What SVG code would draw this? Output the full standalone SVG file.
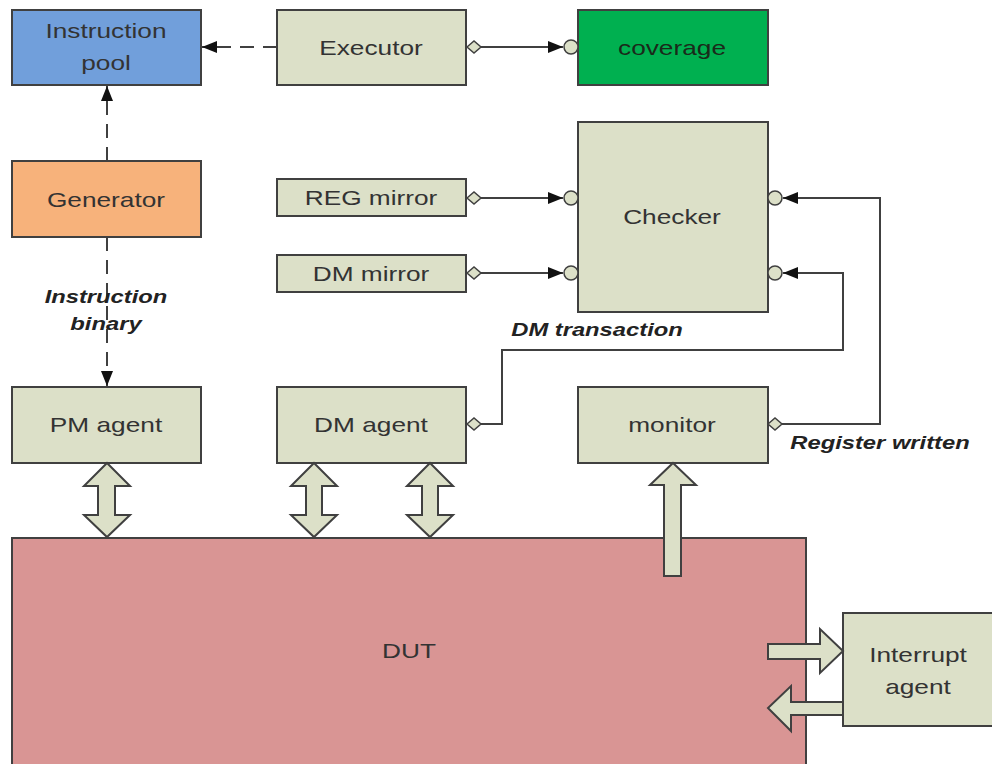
<svg xmlns="http://www.w3.org/2000/svg" width="992" height="764" viewBox="0 0 992 764">
<defs>
<style>
.box{stroke:#404040;stroke-width:2}
.std{fill:#dce0c8}
.t{font-family:"Liberation Sans",Arial,sans-serif;font-size:21px;fill:#333;text-anchor:middle}
.lbl{font-family:"Liberation Sans",Arial,sans-serif;font-size:19px;font-weight:bold;font-style:italic;fill:#222;text-anchor:middle}
.ln{fill:none;stroke:#404040;stroke-width:2}
.dash{stroke-dasharray:14 9}
.port{fill:#dce0c8;stroke:#404040;stroke-width:1.5}
.fat{fill:#dce0c8;stroke:#404040;stroke-width:2;stroke-linejoin:miter}
</style>
<marker id="ah" viewBox="0 0 15 12" refX="15" refY="6" markerWidth="15" markerHeight="12" markerUnits="userSpaceOnUse" orient="auto">
<path d="M0,0 L15,6 L0,12 z" fill="#111"/>
</marker>
</defs>
<rect width="992" height="764" fill="#fff"/>

<g id="DUT">
<rect class="box" x="12" y="538" width="794" height="232" fill="#d99594"/>
<text class="t" transform="translate(409 658) scale(1.25 1)">DUT</text>
</g>

<g id="instruction-pool">
<rect class="box" x="12" y="10" width="189" height="75" fill="#719fdb"/>
<text class="t" transform="translate(106 38) scale(1.25 1)">Instruction</text>
<text class="t" transform="translate(106 70) scale(1.25 1)">pool</text>
</g>
<g id="executor">
<rect class="box std" x="277" y="10" width="189" height="75"/>
<text class="t" transform="translate(371 55) scale(1.25 1)">Executor</text>
</g>
<g id="coverage">
<rect class="box" x="578" y="10" width="190" height="75" fill="#00b050"/>
<text class="t" transform="translate(672 55) scale(1.25 1)" style="fill:#1a2a1a">coverage</text>
</g>
<g id="generator">
<rect class="box" x="12" y="161" width="189" height="76" fill="#f7b27b"/>
<text class="t" transform="translate(106 207) scale(1.25 1)">Generator</text>
</g>
<g id="reg-mirror">
<rect class="box std" x="277" y="179" width="189" height="37"/>
<text class="t" transform="translate(371 205) scale(1.25 1)">REG mirror</text>
</g>
<g id="dm-mirror">
<rect class="box std" x="277" y="255" width="189" height="37"/>
<text class="t" transform="translate(371 281) scale(1.25 1)">DM mirror</text>
</g>
<g id="checker">
<rect class="box std" x="578" y="122" width="190" height="190"/>
<text class="t" transform="translate(672 224) scale(1.25 1)">Checker</text>
</g>
<g id="pm-agent">
<rect class="box std" x="12" y="387" width="189" height="76"/>
<text class="t" transform="translate(106 432) scale(1.25 1)">PM agent</text>
</g>
<g id="dm-agent">
<rect class="box std" x="277" y="387" width="189" height="76"/>
<text class="t" transform="translate(371 432) scale(1.25 1)">DM agent</text>
</g>
<g id="monitor">
<rect class="box std" x="578" y="387" width="190" height="76"/>
<text class="t" transform="translate(672 432) scale(1.25 1)">monitor</text>
</g>
<g id="interrupt-agent">
<rect class="box std" x="843" y="613" width="150" height="113"/>
<text class="t" transform="translate(918 662) scale(1.25 1)">Interrupt</text>
<text class="t" transform="translate(918 694) scale(1.25 1)">agent</text>
</g>

<g id="connectors">
<!-- dashed -->
<line class="ln dash" x1="277" y1="47" x2="202" y2="47" marker-end="url(#ah)"/>
<line class="ln dash" x1="107" y1="161" x2="107" y2="86" marker-end="url(#ah)"/>
<line class="ln dash" x1="107" y1="237" x2="107" y2="386" marker-end="url(#ah)"/>
<!-- executor to coverage -->
<line class="ln" x1="481" y1="47" x2="563" y2="47" marker-end="url(#ah)"/>
<line class="ln" x1="481" y1="198" x2="563" y2="198" marker-end="url(#ah)"/>
<line class="ln" x1="481" y1="273" x2="563" y2="273" marker-end="url(#ah)"/>
<path class="ln" d="M481,424 H502 V350 H843 V273 H783" marker-end="url(#ah)"/>
<path class="ln" d="M782,424 H880 V198 H783" marker-end="url(#ah)"/>
<!-- ports -->
<path class="port" d="M467,47 L474,41 L481,47 L474,53 z"/>
<path class="port" d="M467,198 L474,192 L481,198 L474,204 z"/>
<path class="port" d="M467,273 L474,267 L481,273 L474,279 z"/>
<path class="port" d="M467,424 L474,418 L481,424 L474,430 z"/>
<path class="port" d="M768,424 L775,418 L782,424 L775,430 z"/>
<circle class="port" cx="571" cy="47" r="7"/>
<circle class="port" cx="571" cy="198" r="7"/>
<circle class="port" cx="571" cy="273" r="7"/>
<circle class="port" cx="775" cy="198" r="7"/>
<circle class="port" cx="775" cy="273" r="7"/>
<!-- fat arrows -->
<polygon class="fat" points="107,463 130,486 115,486 115,515 130,515 107,537 84,515 98,515 98,486 84,486"/>
<polygon class="fat" points="314,463 337,486 322,486 322,515 337,515 314,537 291,515 306,515 306,486 291,486"/>
<polygon class="fat" points="430,463 453,486 438,486 438,515 453,515 430,537 407,515 422,515 422,486 407,486"/>
<polygon class="fat" points="673,463 696,485 681,485 681,576 664,576 664,485 650,485"/>
<polygon class="fat" points="768,644 820,644 820,629 843,651 820,673 820,659 768,659"/>
<polygon class="fat" points="843,702 791,702 791,686 768,708 791,731 791,715 843,715"/>
<!-- labels -->
<text class="lbl" transform="translate(106 303) scale(1.25 1)">Instruction</text>
<text class="lbl" transform="translate(106 330) scale(1.25 1)">binary</text>
<text class="lbl" transform="translate(597 336) scale(1.25 1)">DM transaction</text>
<text class="lbl" transform="translate(880 449) scale(1.25 1)">Register written</text>
</g>
</svg>
